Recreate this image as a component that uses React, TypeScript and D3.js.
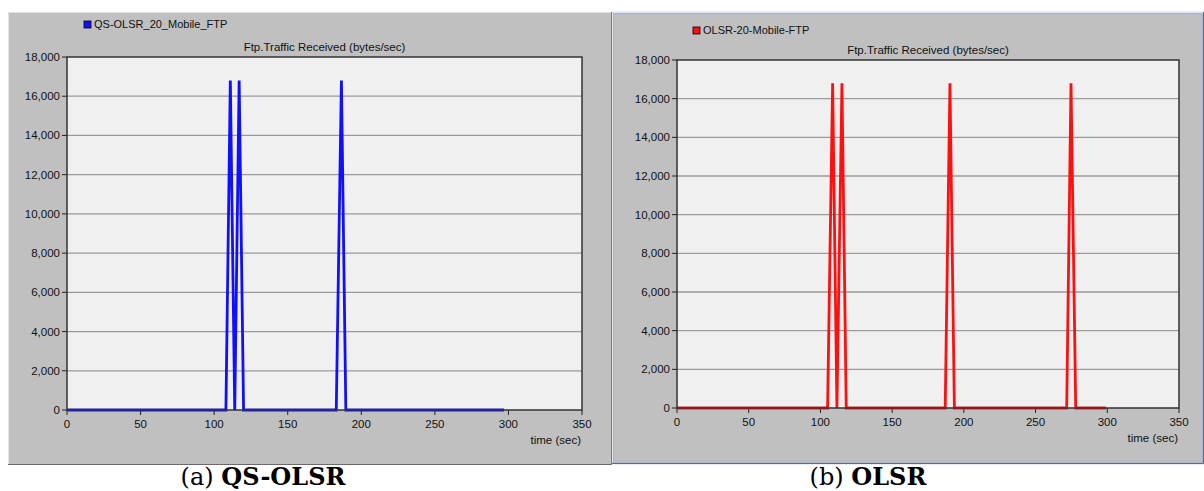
import React from "react";
import * as d3 from "d3";

// Ftp traffic received (bytes/sec) over simulation time (sec)
const qsTime = [0, 108, 111, 114, 117, 120, 183, 186.5, 189.5, 297];
const qsValue = [0, 0, 16800, 0, 16800, 0, 0, 16800, 0, 0];

const olsrTime = [0, 105, 108.5, 111.5, 115, 118, 187, 190.3, 193.4, 271.7, 274.7, 278, 299];
const olsrValue = [0, 0, 16800, 0, 16800, 0, 0, 16800, 0, 0, 16800, 0, 0];

const yTicks = [0, 2000, 4000, 6000, 8000, 10000, 12000, 14000, 16000, 18000];
const xTicks = [0, 50, 100, 150, 200, 250, 300, 350];

const chartTitle = "Ftp.Traffic Received (bytes/sec)";
const xLabel = "time (sec)";

type PanelProps = {
  box: { x: number; y: number; w: number; h: number };
  plot: { l: number; r: number; t: number; b: number };
  legend: { x: number; y: number };
  name: string;
  color: string;
  time: number[];
  value: number[];
  windowBorder?: boolean;
};

const sans = "'Liberation Sans', Arial, sans-serif";

function Panel({ box, plot, legend, name, color, time, value, windowBorder }: PanelProps) {
  const x = d3.scaleLinear().domain([0, 350]).range([plot.l, plot.r]);
  const y = d3.scaleLinear().domain([0, 18000]).range([plot.b, plot.t]);
  const pts: [number, number][] = time.map((t, i) => [t, value[i]]);
  const line = d3
    .line<[number, number]>()
    .x((d) => x(d[0]))
    .y((d) => y(d[1]));
  const fmt = d3.format(",");
  const cx = (plot.l + plot.r) / 2;
  return (
    <g>
      <rect x={box.x} y={box.y} width={box.w} height={box.h} fill="#c0c0c0" />
      {windowBorder ? (
        <rect
          x={box.x + 1}
          y={box.y + 1}
          width={box.w - 2}
          height={box.h - 2}
          fill="none"
          stroke="#a9b6d6"
          strokeWidth={2.5}
        />
      ) : null}
      <path
        d={`M${box.x + 0.5},${box.y + box.h} V${box.y + 0.5} H${box.x + box.w}`}
        fill="none"
        stroke="#e4e4e4"
        strokeWidth={1}
      />
      <path
        d={`M${box.x},${box.y + box.h - 0.5} H${box.x + box.w - 0.5} V${box.y}`}
        fill="none"
        stroke="#6a6a6a"
        strokeWidth={1}
      />
      {/* legend */}
      <rect x={legend.x} y={legend.y} width={7} height={7} fill={color} stroke="#000" strokeWidth={0.8} />
      <text x={legend.x + 10} y={legend.y + 7} fontFamily={sans} fontSize={11} fill="#111">
        {name}
      </text>
      <text x={cx} y={plot.t - 6} textAnchor="middle" fontFamily={sans} fontSize={11.5} fill="#111">
        {chartTitle}
      </text>
      {/* plot area */}
      <rect x={plot.l} y={plot.t} width={plot.r - plot.l} height={plot.b - plot.t} fill="#f0f0f0" />
      {yTicks.map((v) => (
        <g key={v}>
          {v > 0 && v < 18000 ? (
            <line x1={plot.l} x2={plot.r} y1={y(v)} y2={y(v)} stroke="#9a9a9a" strokeWidth={1.3} />
          ) : null}
          <line x1={plot.l - 5} x2={plot.l} y1={y(v)} y2={y(v)} stroke="#222" strokeWidth={1} />
          <text
            x={plot.l - 7}
            y={y(v) + 4}
            textAnchor="end"
            fontFamily={sans}
            fontSize={11.5}
            fill="#111"
          >
            {fmt(v)}
          </text>
        </g>
      ))}
      {xTicks.map((v) => (
        <g key={v}>
          <line x1={x(v)} x2={x(v)} y1={plot.b} y2={plot.b + 5} stroke="#222" strokeWidth={1} />
          <text x={x(v)} y={plot.b + 18} textAnchor="middle" fontFamily={sans} fontSize={11.5} fill="#111">
            {v}
          </text>
        </g>
      ))}
      <text x={plot.r - 1} y={plot.b + 34} textAnchor="end" fontFamily={sans} fontSize={11.5} fill="#111">
        {xLabel}
      </text>
      <path d={line(pts) ?? ""} fill="none" stroke={color} strokeWidth={2.8} strokeLinejoin="miter" />
      <rect
        x={plot.l}
        y={plot.t}
        width={plot.r - plot.l}
        height={plot.b - plot.t}
        fill="none"
        stroke="#333"
        strokeWidth={1.5}
      />
    </g>
  );
}

export default function App() {
  const serif = "'DejaVu Serif', 'Liberation Serif', serif";
  return (
    <svg
      width={1204}
      height={491}
      style={{ position: "absolute", left: 0, top: 0, background: "#fff" }}
    >
      <Panel
        box={{ x: 8, y: 12, w: 604, h: 453 }}
        plot={{ l: 67, r: 582, t: 57, b: 410 }}
        legend={{ x: 84, y: 21 }}
        name="QS-OLSR_20_Mobile_FTP"
        color="#1010ff"
        time={qsTime}
        value={qsValue}
      />
      <Panel
        box={{ x: 612, y: 12, w: 592, h: 452 }}
        plot={{ l: 677, r: 1179, t: 60, b: 408 }}
        legend={{ x: 693, y: 27 }}
        name="OLSR-20-Mobile-FTP"
        color="#ff1010"
        time={olsrTime}
        value={olsrValue}
        windowBorder
      />
      <text x={263} y={485} textAnchor="middle" fontFamily={serif} fontSize={24} fill="#000">
        (a) <tspan fontWeight="bold">QS-OLSR</tspan>
      </text>
      <text x={868} y={485} textAnchor="middle" fontFamily={serif} fontSize={24} fill="#000">
        (b) <tspan fontWeight="bold">OLSR</tspan>
      </text>
    </svg>
  );
}
